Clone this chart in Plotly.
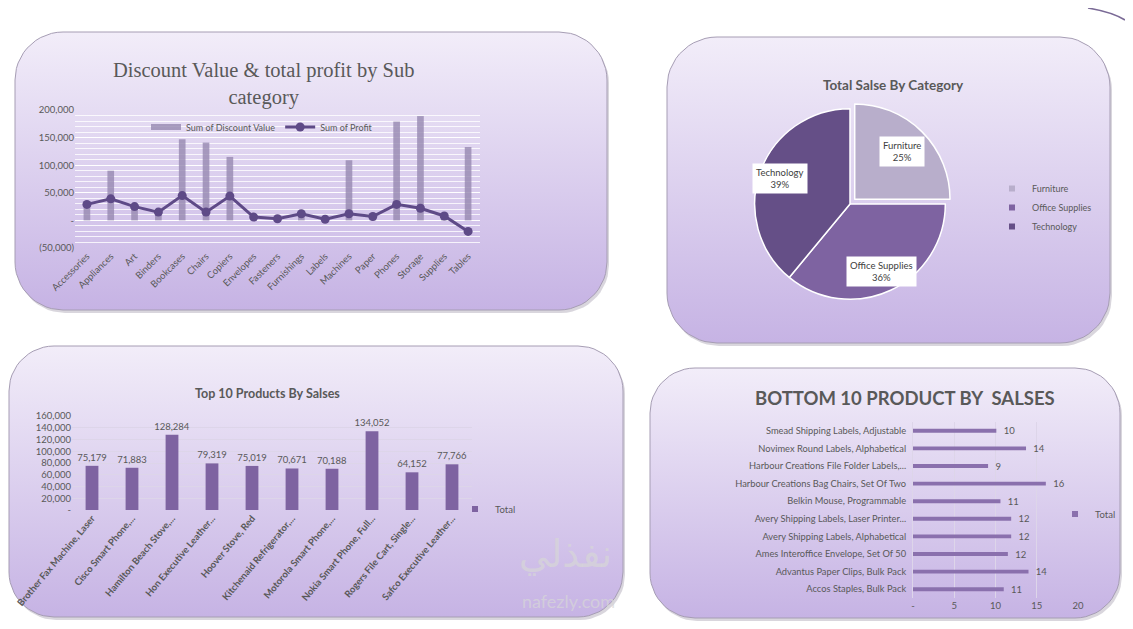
import numpy as np
import plotly.graph_objects as go

# page is 1133x629; the browser body keeps an 8px margin, so the figure is drawn smaller
PAGE_W, PAGE_H = 1133, 629
OFF = 8
FW, FH = PAGE_W - 2 * OFF, PAGE_H - 2 * OFF

# ---- data ----
sub_categories = ['Accessories', 'Appliances', 'Art', 'Binders', 'Bookcases', 'Chairs', 'Copiers',
                  'Envelopes', 'Fasteners', 'Furnishings', 'Labels', 'Machines', 'Paper', 'Phones',
                  'Storage', 'Supplies', 'Tables']
discount_value = [28000, 90000, 24000, 16000, 147000, 141000, 115000, 3000, 2000, 12000, 2000,
                  109000, 4000, 179000, 189000, 8000, 133000]
profit = [29000, 39000, 25000, 15000, 45000, 15000, 44000, 6000, 3000, 12000, 2000, 12000, 7000,
          29000, 22000, 8000, -20000]
profit_tickvals = [-50000, 0, 50000, 100000, 150000, 200000]
profit_ticktext = ['(50,000)', '-', '50,000', '100,000', '150,000', '200,000']

pie_labels = ['Furniture', 'Office Supplies', 'Technology']
pie_values = [25, 36, 39]
pie_colors = ['#b8aecb', '#7e63a1', '#654f87']

top_products = ['Brother Fax Machine, Laser', 'Cisco Smart Phone,...', 'Hamilton Beach Stove,...',
                'Hon Executive Leather...', 'Hoover Stove, Red', 'Kitchenaid Refrigerator,...',
                'Motorola Smart Phone,...', 'Nokia Smart Phone, Full...', 'Rogers File Cart, Single...',
                'Safco Executive Leather...']
top_sales = [75179, 71883, 128284, 79319, 75019, 70671, 70188, 134052, 64152, 77766]
top_tickvals = [0, 20000, 40000, 60000, 80000, 100000, 120000, 140000, 160000]
top_ticktext = ['-', '20,000', '40,000', '60,000', '80,000', '100,000', '120,000', '140,000', '160,000']

bottom_products = ['Smead Shipping Labels, Adjustable', 'Novimex Round Labels, Alphabetical',
                   'Harbour Creations File Folder Labels,...', 'Harbour Creations Bag Chairs, Set Of Two',
                   'Belkin Mouse, Programmable', 'Avery Shipping Labels, Laser Printer...',
                   'Avery Shipping Labels, Alphabetical', 'Ames Interoffice Envelope, Set Of 50',
                   'Advantus Paper Clips, Bulk Pack', 'Accos Staples, Bulk Pack']
bottom_sales = [10.1, 13.7, 9.1, 16.1, 10.6, 11.9, 11.9, 11.5, 14.0, 11.0]
bottom_tickvals = [0, 5, 10, 15, 20]
bottom_ticktext = ['-', '5', '10', '15', '20']

GREY = '#595959'
FONT = 'Lato, "Open Sans", sans-serif'


def px(x):
    return (x - OFF) / FW


def py(y):
    return 1 - (y - OFF) / FH


def rounded_rect(x0, y0, x1, y1, r, n=14):
    xs, ys = [], []
    corners = [(x1 - r, y0 + r, -90, 0), (x1 - r, y1 - r, 0, 90),
               (x0 + r, y1 - r, 90, 180), (x0 + r, y0 + r, 180, 270)]
    for cx, cy, a0, a1 in corners:
        for a in np.linspace(np.radians(a0), np.radians(a1), n):
            xs.append(cx + r * np.cos(a))
            ys.append(cy + r * np.sin(a))
    xs.append(xs[0])
    ys.append(ys[0])
    return xs, ys


def legend_key(name, color, legend, xa, ya):
    # small square legend entry (plotly's own bar/pie swatches are too big)
    return go.Scatter(x=[None], y=[None], mode='markers', name=name, legend=legend,
                      marker=dict(symbol='square', size=6, color=color), xaxis=xa, yaxis=ya)


fig = go.Figure()

# panel backgrounds on a page-pixel axis
panels = [(15, 32, 607, 310, 48), (667, 37, 1110, 343, 50),
          (9, 346, 623, 617, 45), (650, 368, 1120, 618, 45)]
for x0, y0, x1, y1, r in panels:
    sx, sy = rounded_rect(x0 + 2, y0 + 3, x1 + 2, y1 + 3, r)
    fig.add_trace(go.Scatter(x=sx, y=sy, fill='toself', mode='lines', line=dict(width=0),
                             fillcolor='rgba(80,70,100,0.22)', hoverinfo='skip', showlegend=False))
    bx, by = rounded_rect(x0, y0, x1, y1, r)
    fig.add_trace(go.Scatter(
        x=bx, y=by, fill='toself', mode='lines', line=dict(color='#a69db4', width=1),
        fillgradient=dict(type='vertical', colorscale=[[0, '#c6b3e4'], [1, '#f2edf9']],
                          start=y1, stop=y0),
        hoverinfo='skip', showlegend=False))

# 1) discount value & profit
fig.add_trace(go.Bar(x=sub_categories, y=discount_value, name='Sum of Discount Value',
                     marker=dict(color='rgba(150,136,176,0.8)', line=dict(width=0)), width=0.28,
                     xaxis='x2', yaxis='y2', showlegend=False))
# bar swatch in the legend is a wide flat block, drawn as a thick legend line
fig.add_trace(go.Scatter(x=[None], y=[None], mode='lines', name='Sum of Discount Value',
                         line=dict(color='rgba(150,136,176,0.8)', width=6), legend='legend',
                         xaxis='x2', yaxis='y2'))
fig.add_trace(go.Scatter(x=sub_categories, y=profit, name='Sum of Profit', mode='lines+markers',
                         line=dict(color='#5e4a87', width=3), marker=dict(size=9, color='#5e4a87'),
                         xaxis='x2', yaxis='y2', legend='legend', cliponaxis=False))

# 2) pie
PIE_CX, PIE_CY, PIE_R = 850, 204, 95
fig.add_trace(go.Pie(labels=pie_labels, values=pie_values, sort=False, direction='clockwise',
                     pull=[0.07, 0, 0], showlegend=False, textinfo='none',
                     marker=dict(colors=pie_colors, line=dict(color='white', width=1.5)),
                     domain=dict(x=[px(PIE_CX - 102), px(PIE_CX + 102)],
                                 y=[py(PIE_CY + 102), py(PIE_CY - 102)]),
                     hoverinfo='label+percent'))
for lab, col in zip(pie_labels, pie_colors):
    fig.add_trace(legend_key(lab, col, 'legend2', 'x2', 'y2'))

# white label boxes at each slice's mid-angle
pie_notes = []
total = sum(pie_values)
cum = 0
for lab, v in zip(pie_labels, pie_values):
    mid = 2 * np.pi * (cum + v / 2) / total
    cum += v
    lx = PIE_CX + 0.78 * PIE_R * np.sin(mid)
    ly = PIE_CY - 0.78 * PIE_R * np.cos(mid)
    pie_notes.append(dict(text=f'{lab}<br>{round(100 * v / total)}%', x=px(lx), y=py(ly),
                          xref='paper', yref='paper', showarrow=False, xanchor='center',
                          yanchor='middle', bgcolor='white', borderpad=3,
                          font=dict(family=FONT, size=9.5, color='#404040')))

# 3) top 10 products
fig.add_trace(go.Bar(x=top_products, y=top_sales, name='Total', width=0.32, showlegend=False,
                     marker=dict(color='#7e63a1'), texttemplate='%{y:,}', textposition='outside',
                     constraintext='none',
                     textfont=dict(family=FONT, size=9.5, color=GREY), cliponaxis=False,
                     xaxis='x3', yaxis='y3'))
fig.add_trace(legend_key('Total', '#7e63a1', 'legend3', 'x3', 'y3'))

# 4) bottom 10 products
fig.add_trace(go.Bar(y=bottom_products, x=bottom_sales, orientation='h', name='Total', width=0.22,
                     marker=dict(color='#8a70ad'), texttemplate='\u00a0\u00a0\u00a0%{x:.0f}',
                     textposition='outside', constraintext='none', showlegend=False,
                     textfont=dict(family=FONT, size=9.5, color=GREY), cliponaxis=False,
                     xaxis='x4', yaxis='y4'))
fig.add_trace(legend_key('Total', '#8a70ad', 'legend4', 'x4', 'y4'))

tick = dict(family=FONT, size=9.5, color=GREY)
legend_base = dict(bgcolor='rgba(0,0,0,0)', font=dict(family=FONT, size=9.5, color=GREY),
                   itemwidth=30)


def title(text, x, y, size, family=FONT):
    return dict(text=text, x=px(x), y=py(y), xref='paper', yref='paper', showarrow=False,
                xanchor='center', yanchor='middle', font=dict(family=family, size=size, color=GREY))


fig.update_layout(
    template='none',
    width=FW, height=FH, margin=dict(l=0, r=0, t=0, b=0), autosize=False,
    paper_bgcolor='white', plot_bgcolor='rgba(0,0,0,0)',
    font=dict(family=FONT, color=GREY),
    xaxis=dict(domain=[0, 1], range=[OFF, OFF + FW], visible=False, fixedrange=True,
               automargin=False),
    yaxis=dict(domain=[0, 1], range=[OFF + FH, OFF], visible=False, fixedrange=True,
               automargin=False),
    xaxis2=dict(domain=[px(75), px(480)], anchor='y2', tickangle=-45, tickfont=tick,
                range=[-0.5, len(sub_categories) - 0.5],
                showgrid=False, showline=False, ticks='', automargin=False),
    yaxis2=dict(domain=[py(248), py(110)], anchor='x2', range=[-50000, 200000],
                tickvals=profit_tickvals, ticktext=profit_ticktext, tickfont=tick, ticks='',
                showgrid=True, gridcolor='rgba(255,255,255,0.95)', gridwidth=1, zeroline=False,
                automargin=False, showline=False,
                minor=dict(dtick=10000, showgrid=True, gridcolor='rgba(255,255,255,0.8)')),
    xaxis3=dict(domain=[px(72), px(472)], anchor='y3', tickangle=-50, ticks='',
                tickfont=dict(family=FONT, size=9.5, color=GREY, weight='bold'),
                showgrid=False, automargin=False),
    yaxis3=dict(domain=[py(510), py(416)], anchor='x3', range=[0, 160000], ticks='',
                tickvals=top_tickvals, ticktext=top_ticktext, tickfont=tick,
                showgrid=True, gridcolor='#ddd5e9', zeroline=False, automargin=False),
    xaxis4=dict(domain=[px(913), px(1078)], anchor='y4', range=[0, 20], ticks='',
                tickvals=bottom_tickvals, ticktext=bottom_ticktext, tickfont=tick,
                showgrid=True, gridcolor='#ddd5e9', zeroline=False, automargin=False),
    yaxis4=dict(domain=[py(598), py(422)], anchor='x4', autorange='reversed', ticks='',
                tickfont=dict(family=FONT, size=9.3, color=GREY), showgrid=False,
                ticklabelstandoff=4,
                showline=True, linecolor='#ddd5e9', automargin=False),
    legend=dict(legend_base, orientation='h', x=px(262), xanchor='center', y=py(127),
                yanchor='middle', font=dict(family=FONT, size=9, color=GREY)),
    legend2=dict(legend_base, x=px(992), xanchor='left', y=py(174), yanchor='top',
                 font=dict(family=FONT, size=9, color=GREY)),
    legend3=dict(legend_base, x=px(455), xanchor='left', y=py(509), yanchor='middle'),
    legend4=dict(legend_base, x=px(1055), xanchor='left', y=py(514), yanchor='middle'),
    annotations=[
        title('Discount Value &amp; total profit by Sub<br>category', 263, 84, 20.5,
              '"Liberation Serif", serif'),
        title('<b>Total Salse By Category</b>', 893, 85, 13.5),
        title('<b>Top 10 Products By Salses</b>', 267, 393, 12.5),
        title('<b>BOTTOM 10 PRODUCT BY\u00a0 SALSES</b>', 905, 398, 18.5),
        dict(text='نفذلي', x=px(565), y=py(578), xref='paper', yref='paper', showarrow=False,
             font=dict(family='"DejaVu Sans", sans-serif', size=38, color='rgba(215,215,215,0.7)')),
        dict(text='nafezly.com', x=px(568), y=py(614), xref='paper', yref='paper', showarrow=False,
             font=dict(family=FONT, size=18, color='rgba(215,215,215,0.7)')),
    ] + pie_notes,
    shapes=[dict(type='path', xref='paper', yref='paper',
                 path=f'M {px(1088)},{py(OFF)} Q {px(1112)},{py(12)} {px(OFF + FW)},{py(20)}',
                 line=dict(color='#7a6a96', width=1.5))],
)

fig.write_html("out.html")
